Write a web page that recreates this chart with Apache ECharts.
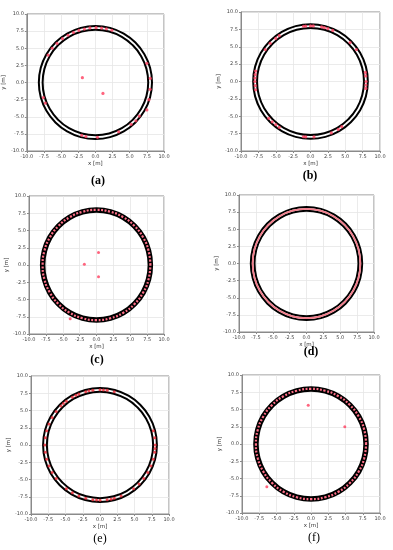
<!DOCTYPE html>
<html><head><meta charset="utf-8">
<script src="https://cdn.jsdelivr.net/npm/echarts@6/dist/echarts.min.js"></script>
<style>html,body{margin:0;padding:0;background:#fff}#c{width:393px;height:550px}</style>
</head><body><div id="c"></div>
<script>
// Tick labels shared by all panels
var tickValues = [-10.0, -7.5, -5.0, -2.5, 0.0, 2.5, 5.0, 7.5, 10.0];
var panelLabels = ['(a)', '(b)', '(c)', '(d)', '(e)', '(f)'];

// Black detected boundary points (outer and inner ring)
var outerRing = [[8.25,0],[7.97,2.14],[7.14,4.13],[5.83,5.83],[4.13,7.14],[2.14,7.97],[0,8.25],[-2.14,7.97],[-4.13,7.14],[-5.83,5.83],[-7.14,4.13],[-7.97,2.14],[-8.25,0],[-7.97,-2.14],[-7.14,-4.13],[-5.83,-5.83],[-4.13,-7.14],[-2.14,-7.97],[0,-8.25],[2.14,-7.97],[4.13,-7.14],[5.83,-5.83],[7.14,-4.13],[7.97,-2.14],[8.25,0]];
var innerRing = [[7.7,0],[7.44,1.99],[6.67,3.85],[5.44,5.44],[3.85,6.67],[1.99,7.44],[0,7.7],[-1.99,7.44],[-3.85,6.67],[-5.44,5.44],[-6.67,3.85],[-7.44,1.99],[-7.7,0],[-7.44,-1.99],[-6.67,-3.85],[-5.44,-5.44],[-3.85,-6.67],[-1.99,-7.44],[0,-7.7],[1.99,-7.44],[3.85,-6.67],[5.44,-5.44],[6.67,-3.85],[7.44,-1.99],[7.7,0]];
var midRing = [[7.98,0],[7.71,2.07],[6.91,3.99],[5.64,5.64],[3.99,6.91],[2.07,7.71],[0,7.98],[-2.07,7.71],[-3.99,6.91],[-5.64,5.64],[-6.91,3.99],[-7.71,2.07],[-7.98,0],[-7.71,-2.07],[-6.91,-3.99],[-5.64,-5.64],[-3.99,-6.91],[-2.07,-7.71],[0,-7.98],[2.07,-7.71],[3.99,-6.91],[5.64,-5.64],[6.91,-3.99],[7.71,-2.07],[7.98,0]];

// Red points per panel
var redA = [[-7.6,-2.2],[-7.3,-3.0],[-6.9,4.0],[-6.3,5.0],[-5.6,5.7],[-4.8,6.4],[-4.0,6.9],[-3.2,7.3],[-2.4,7.6],[-1.6,7.8],[-0.8,7.96],[0.1,8.0],[0.9,7.95],[1.6,7.84],[2.4,7.63],[7.5,2.8],[8.0,0.6],[7.97,-1.0],[7.8,-2.5],[7.5,-4.0],[6.4,-4.9],[5.9,-5.6],[5.2,-6.1],[3.4,-7.2],[0.3,-8.0],[-1.4,-7.9],[-2.0,-7.7],[-1.9,0.7],[1.1,-1.6]];
var redB = [[-1.0,7.95],[-0.7,7.97],[0.0,8.0],[0.4,7.99],[1.6,7.85],[2.0,7.75],[2.5,7.6],[3.2,7.35],[-4.5,6.6],[-5.0,6.2],[-5.8,5.5],[-6.5,4.6],[-7.9,1.5],[-7.95,1.0],[-8.0,0.5],[-8.0,0.0],[-7.95,-0.6],[-7.9,-1.2],[-6.0,-5.3],[-5.5,-5.8],[-5.0,-6.2],[-4.5,-6.6],[-1.0,-7.95],[-0.7,-7.97],[0.5,-7.98],[3.0,-7.4],[4.0,-6.9],[4.5,-6.5],[7.9,1.3],[7.95,0.8],[8.0,0.0],[7.97,-0.5],[7.95,-1.0],[5.7,5.6],[6.6,4.6]];
var redCextra = [[0.3,1.8],[-1.8,0.1],[0.3,-1.7],[-3.9,-7.8]];
var redE = [[8.0,0.0],[7.93,1.04],[7.73,2.07],[2.07,7.73],[1.04,7.93],[0.5,7.98],[0.0,8.0],[-1.04,7.93],[-1.6,7.85],[-2.07,7.73],[-3.06,7.39],[-3.5,7.2],[-4.0,6.93],[-4.87,6.35],[-5.3,6.0],[-5.66,5.66],[-6.35,4.87],[-6.93,4.0],[-7.39,3.06],[-7.73,2.07],[-7.93,1.04],[-8.0,0.0],[-7.93,-1.04],[-7.73,-2.07],[-7.39,-3.06],[-6.93,-4.0],[-6.35,-4.87],[-4.87,-6.35],[-4.0,-6.93],[-3.06,-7.39],[-2.07,-7.73],[-1.04,-7.93],[-0.5,-7.98],[0.0,-8.0],[1.04,-7.93],[1.6,-7.85],[2.07,-7.73],[3.06,-7.39],[4.87,-6.35],[5.66,-5.66],[6.35,-4.87],[6.93,-4.0],[7.39,-3.06],[7.73,-2.07],[7.93,-1.04],[7.98,-0.5]];
var redFextra = [[-0.4,5.6],[4.9,2.5],[-6.4,-6.2]];

var grids = [
  {left:26, top:14, width:138, height:137},
  {left:241, top:12, width:139, height:139},
  {left:29, top:196, width:135, height:138},
  {left:239, top:195, width:135, height:137},
  {left:31, top:376, width:138, height:138},
  {left:242, top:375, width:138, height:138}
];
var labelPos = [[98,181,'bold'],[310,176,'bold'],[97,360,'bold'],[311,352,'bold'],[100,539,'normal'],[314,538,'normal']];

var xAxes = [], yAxes = [], series = [], graphics = [];
function axis(i, name, isY){
  return {
    type:'value', gridIndex:i, min:-10, max:10, interval:2.5,
    name:name, nameLocation:'middle', nameGap: isY ? 18 : 10,
    nameTextStyle:{fontSize:5.5, color:'#333', fontFamily:'DejaVu Sans'},
    axisLine:{show:true, onZero:false, lineStyle:{color:'#8a8a8a', width:1}},
    axisTick:{show:true, length:2, lineStyle:{color:'#8a8a8a'}},
    axisLabel:{fontSize:5, color:'#444', margin:3, fontFamily:'DejaVu Sans', formatter:function(v){return v.toFixed(1);}},
    splitLine:{show:true, lineStyle:{color:'#e6e6e6', width:0.8}}
  };
}
function ring(i, data, color, width, dash){
  series.push({type:'line', xAxisIndex:i, yAxisIndex:i, data:data, smooth:0.5, showSymbol:false, silent:true,
    lineStyle:{color:color, width:width, type: dash || 'solid'}, z:2});
}
function dots(i, data, color, size){
  series.push({type:'scatter', xAxisIndex:i, yAxisIndex:i, data:data, symbolSize:size, silent:true,
    itemStyle:{color:color}, z:5});
}
for (var i=0;i<6;i++){
  xAxes.push(axis(i,'x [m]',false));
  yAxes.push(axis(i,'y [m]',true));
  graphics.push({type:'text', x:labelPos[i][0], y:labelPos[i][1],
    style:{text:panelLabels[i], font:labelPos[i][2]+' 12px "Liberation Serif"', fill:'#000',
      textAlign:'center', textVerticalAlign:'middle', align:'center', verticalAlign:'middle'}});
}
// (a)
ring(0, outerRing, '#000', 2); ring(0, innerRing, '#000', 2); dots(0, redA, '#ff3d5e', 3.2);
// (b)
ring(1, outerRing, '#000', 2); ring(1, innerRing, '#000', 2); dots(1, redB, '#ff3d5e', 3.2);
// (c)
ring(2, midRing, '#000', 5.5); ring(2, midRing, '#ff7088', 2.2, [2,1.6]); dots(2, redCextra, '#ff3d5e', 3);
// (d)
ring(3, outerRing, '#000', 2); ring(3, innerRing, '#000', 2); ring(3, midRing, '#f27c8a', 1.8);
// (e)
ring(4, outerRing, '#000', 2); ring(4, innerRing, '#000', 2); dots(4, redE, '#e8232f', 3);
// (f)
ring(5, midRing, '#000', 5.5); ring(5, midRing, '#ff7088', 2.2, [2,1.6]); dots(5, redFextra, '#ff3d5e', 3);

var chart = echarts.init(document.getElementById('c'), null, {renderer:'canvas'});
chart.setOption({
  animation:false,
  grid: grids.map(function(g){ return Object.assign({show:true, borderColor:'#8a8a8a', borderWidth:1, backgroundColor:'#fff'}, g); }),
  xAxis:xAxes, yAxis:yAxes, series:series, graphic:graphics
});
</script></body></html>
